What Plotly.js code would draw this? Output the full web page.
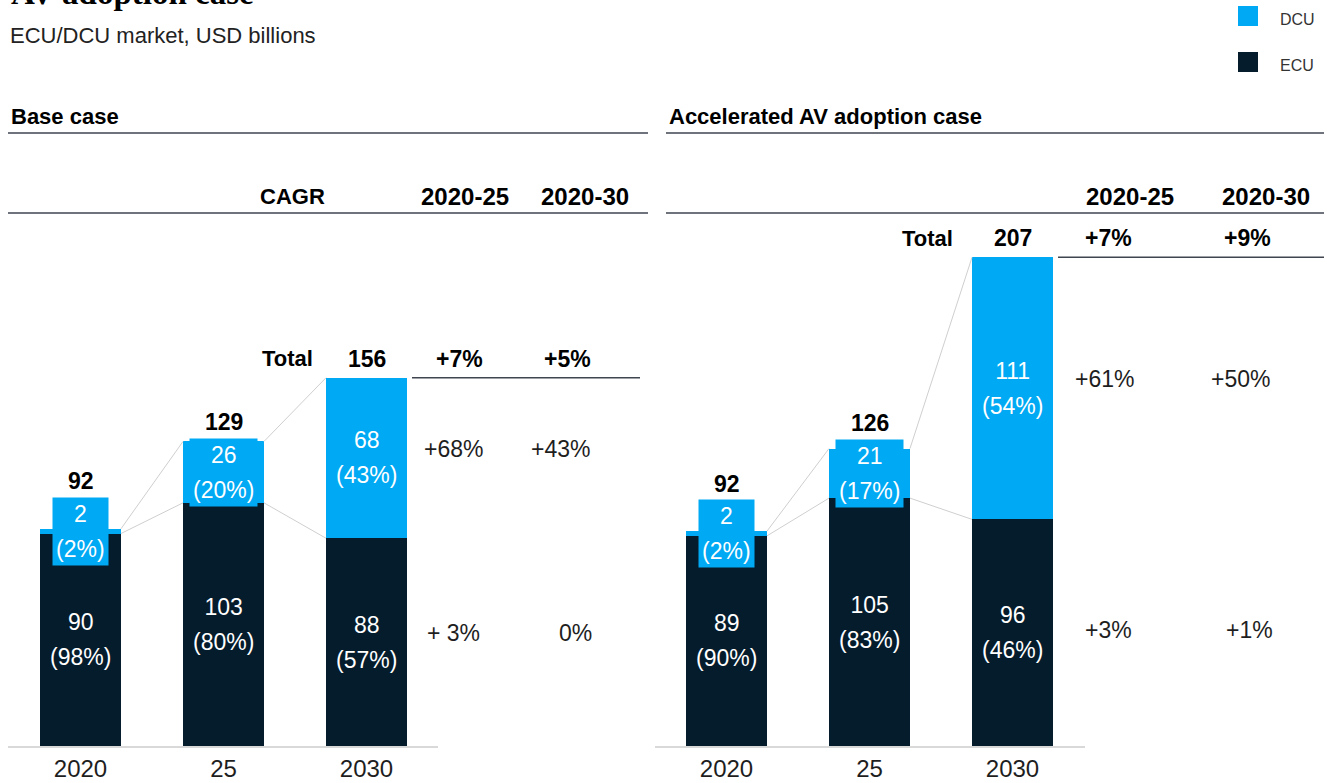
<!DOCTYPE html>
<html>
<head>
<meta charset="utf-8">
<script src="https://cdn.plot.ly/plotly-3.0.1.min.js"></script>
<style>html,body{margin:0;padding:0;background:#fff;}#chart{width:1327px;height:783px;}</style>
</head>
<body>
<div id="chart"></div>
<script>
// ---- data ----
const years = ['2020', '25', '2030'];

const baseECU = [90, 103, 88];
const baseDCU = [2, 26, 68];
const baseTotal = [92, 129, 156];
const baseECUShare = ['98%', '80%', '57%'];
const baseDCUShare = ['2%', '20%', '43%'];
const baseCagrTotal = ['+7%', '+5%'];
const baseCagrDCU = ['+68%', '+43%'];
const baseCagrECU = ['+ 3%', '0%'];

const accECU = [89, 105, 96];
const accDCU = [2, 21, 111];
const accTotal = [92, 126, 207];
const accECUShare = ['90%', '83%', '46%'];
const accDCUShare = ['2%', '17%', '54%'];
const accCagrTotal = ['+7%', '+9%'];
const accCagrDCU = ['+61%', '+50%'];
const accCagrECU = ['+3%', '+1%'];

const cagrPeriods = ['2020-25', '2020-30'];
const seriesNames = ['DCU', 'ECU'];

// ---- style ----
const W = 1327, H = 783;
const DCU_C = '#00A9F4', ECU_C = '#051C2C';
const FONT = 'Liberation Sans, Arial, sans-serif';
const TXT = '#1e1e1e';
const RULE = '#3f4650';
const PX = p => p / W;
const PY = p => 1 - p / H;
const baselinePx = 746;
const yMax = 316;
const k = baselinePx / yMax;     // px per unit
const barW = 0.566;

const panels = [
  {xa: 'x', ya: 'y', ecu: baseECU, dcu: baseDCU, total: baseTotal, es: baseECUShare, ds: baseDCUShare,
   ct: baseCagrTotal, cd: baseCagrDCU, ce: baseCagrECU, ecuShift: 9,
   title: 'Base case', titleX: 9, ruleL: 8, ruleR: 648, totalLblR: 315,
   colValX: [[460, 567], [453, 560], [453, 575]], hdrX: [465, 585], lineL: 412, lineR: 640, cagrLbl: true},
  {xa: 'x2', ya: 'y2', ecu: accECU, dcu: accDCU, total: accTotal, es: accECUShare, ds: accDCUShare,
   ct: accCagrTotal, cd: accCagrDCU, ce: accCagrECU, ecuShift: 3,
   title: 'Accelerated AV adoption case', titleX: 667, ruleL: 666, ruleR: 1324, totalLblR: 955,
   colValX: [[1108, 1247], [1104, 1240], [1108, 1249]], hdrX: [1130, 1266], lineL: 1058, lineR: 1324, cagrLbl: false}
];

const traces = [];
const annotations = [];
const shapes = [];
const xs = years.map((_, i) => i);

function twoLine(a, b) {
  return '<span style="font-size:23px">' + a + '</span><br><span style="font-size:23px">' + b + '</span>';
}

panels.forEach((p) => {
  // bars
  traces.push({type: 'bar', x: xs, y: p.ecu, name: seriesNames[1], xaxis: p.xa, yaxis: p.ya,
    marker: {color: ECU_C}, width: barW, showlegend: false, hoverinfo: 'skip'});
  traces.push({type: 'bar', x: xs, y: p.dcu, name: seriesNames[0], xaxis: p.xa, yaxis: p.ya,
    marker: {color: DCU_C}, width: barW, showlegend: false, hoverinfo: 'skip'});
  const tops = p.ecu.map((e, i) => e + p.dcu[i]);
  // connector lines
  for (let i = 0; i < xs.length - 1; i++) {
    [tops, p.ecu].forEach(arr => {
      traces.push({type: 'scatter', mode: 'lines', x: [xs[i] + barW / 2, xs[i + 1] - barW / 2],
        y: [arr[i], arr[i + 1]], xaxis: p.xa, yaxis: p.ya, line: {color: '#cfcfcf', width: 1},
        showlegend: false, hoverinfo: 'skip'});
    });
  }
  const ysArr = [];
  // segment labels
  xs.forEach((x, i) => {
    annotations.push({xref: p.xa, yref: p.ya, x: x, y: p.ecu[i] / 2, xanchor: 'center', yanchor: 'middle',
      text: twoLine(p.ecu[i], '(' + p.es[i] + ')'),
      showarrow: false, font: {family: FONT, size: 27, color: '#ffffff'}, align: 'center'});
    annotations.push({xref: p.xa, yref: p.ya, x: x, y: p.ecu[i] + p.dcu[i] / 2, xanchor: 'center', yanchor: 'middle',
      text: twoLine(p.dcu[i], '(' + p.ds[i] + ')'),
      showarrow: false, font: {family: FONT, size: 27, color: '#ffffff'}, align: 'center',
      bgcolor: DCU_C, borderpad: 3});
    const barTop = tops[i] * k;
    const boxTop = (p.ecu[i] + p.dcu[i] / 2) * k + 35;
    const lbl = Math.max(barTop + 19, boxTop + 15);
    ysArr.push(lbl - barTop);
    annotations.push({xref: p.xa, yref: p.ya, x: x, y: tops[i], xanchor: 'center', yanchor: 'middle', yshift: lbl - barTop,
      text: '<b>' + p.total[i] + '</b>', showarrow: false, font: {family: FONT, size: 23, color: '#000'}});
  });
  const last = xs.length - 1;
  const ysT = ysArr[last];
  // "Total" label
  annotations.push({xref: 'paper', yref: p.ya, x: PX(p.totalLblR), xanchor: 'right', y: tops[last], yanchor: 'middle', yshift: ysT,
    text: '<b>Total</b>', showarrow: false, font: {family: FONT, size: 22, color: '#000'}});
  // CAGR values
  [0, 1].forEach(c => {
    annotations.push({xref: 'paper', yref: p.ya, x: PX(p.colValX[0][c]), xanchor: 'center', y: tops[last], yanchor: 'middle', yshift: ysT,
      text: '<b>' + p.ct[c] + '</b>', showarrow: false, font: {family: FONT, size: 23, color: '#000'}});
    annotations.push({xref: 'paper', yref: p.ya, x: PX(p.colValX[1][c]), xanchor: 'center', y: p.ecu[last] + p.dcu[last] / 2, yanchor: 'middle', yshift: 9,
      text: p.cd[c], showarrow: false, font: {family: FONT, size: 23, color: TXT}});
    annotations.push({xref: 'paper', yref: p.ya, x: PX(p.colValX[2][c]), xanchor: 'center', y: p.ecu[last] / 2, yanchor: 'middle', yshift: p.ecuShift,
      text: p.ce[c], showarrow: false, font: {family: FONT, size: 23, color: TXT}});
    annotations.push({xref: 'paper', yref: 'paper', x: PX(p.hdrX[c]), xanchor: 'center', y: PY(196), yanchor: 'middle',
      text: '<b>' + cagrPeriods[c] + '</b>', showarrow: false, font: {family: FONT, size: 24, color: '#000'}});
  });
  if (p.cagrLbl) {
    annotations.push({xref: 'paper', yref: 'paper', x: PX(292), xanchor: 'center', y: PY(196), yanchor: 'middle',
      text: '<b>CAGR</b>', showarrow: false, font: {family: FONT, size: 22, color: '#000'}});
  }
  // panel title
  annotations.push({xref: 'paper', yref: 'paper', x: PX(p.titleX), xanchor: 'left', y: PY(116), yanchor: 'middle',
    text: '<b>' + p.title + '</b>', showarrow: false, font: {family: FONT, size: 22, color: '#000'}});
  // rules
  [133, 213].forEach(yp => shapes.push({type: 'line', xref: 'paper', yref: 'paper', x0: PX(p.ruleL), x1: PX(p.ruleR),
    y0: PY(yp), y1: PY(yp), line: {color: RULE, width: 1.5}}));
  shapes.push({type: 'line', xref: 'paper', yref: p.ya, x0: PX(p.lineL), x1: PX(p.lineR), y0: tops[last], y1: tops[last],
    line: {color: RULE, width: 1.5}});
});

// chart title (cut at top) and subtitle
annotations.push({xref: 'paper', yref: 'paper', x: PX(9), xanchor: 'left', y: PY(13), yanchor: 'bottom',
  text: '<b>AV adoption case</b>', showarrow: false, font: {family: 'Liberation Serif, serif', size: 33, color: '#000'}});
annotations.push({xref: 'paper', yref: 'paper', x: PX(8), xanchor: 'left', y: PY(35), yanchor: 'middle',
  text: 'ECU/DCU market, USD billions', showarrow: false, font: {family: FONT, size: 22, color: '#222'}});

// legend (manual)
[[seriesNames[0], DCU_C, 16], [seriesNames[1], ECU_C, 62]].forEach(([name, col, yc]) => {
  shapes.push({type: 'rect', xref: 'paper', yref: 'paper', x0: PX(1238), x1: PX(1258), y0: PY(yc - 10), y1: PY(yc + 10),
    fillcolor: col, line: {width: 0}});
  annotations.push({xref: 'paper', yref: 'paper', x: PX(1278), xanchor: 'left', y: PY(yc + 3), yanchor: 'middle',
    text: name, showarrow: false, font: {family: FONT, size: 16, color: '#333'}});
});

const xaxisBase = {
  tickvals: xs, ticktext: years, showline: true, linecolor: '#d9d9d9', linewidth: 2,
  ticks: '', showgrid: false, zeroline: false, fixedrange: true,
  tickfont: {family: FONT, size: 24, color: TXT}
};
const yaxisBase = {range: [0, yMax], visible: false, showgrid: false, zeroline: false, fixedrange: true,
  domain: [(H - baselinePx) / H, 1]};

const layout = {
  width: W, height: H,
  margin: {l: 0, r: 0, t: 0, b: 0},
  paper_bgcolor: '#ffffff', plot_bgcolor: 'rgba(0,0,0,0)',
  barmode: 'stack', bargap: 0,
  showlegend: false,
  xaxis: Object.assign({}, xaxisBase, {domain: [PX(8), PX(438)], range: [-0.507, 2.5], anchor: 'y'}),
  xaxis2: Object.assign({}, xaxisBase, {domain: [PX(655), PX(1085)], range: [-0.5, 2.507], anchor: 'y2'}),
  yaxis: Object.assign({}, yaxisBase, {anchor: 'x'}),
  yaxis2: Object.assign({}, yaxisBase, {anchor: 'x2'}),
  annotations: annotations,
  shapes: shapes,
  font: {family: FONT}
};

Plotly.newPlot('chart', traces, layout, {displayModeBar: false, staticPlot: true});
</script>
</body>
</html>
